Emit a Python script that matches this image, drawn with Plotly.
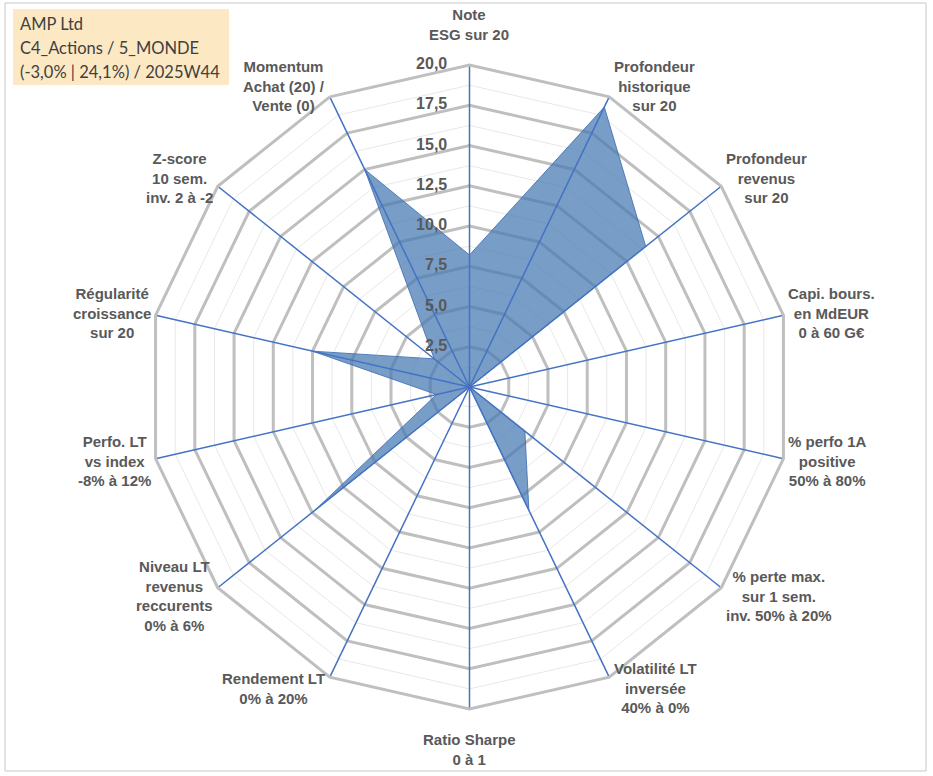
import numpy as np
import plotly.graph_objects as go

# axes of the radar, clockwise from the top
categories = ["ESG", "ProfHist", "ProfRev", "Capi", "Perfo1A", "PerteMax", "Volat",
              "Sharpe", "Rendement", "NiveauRev", "PerfoLT", "Regularite", "Zscore", "Momentum"]
axis_labels = [
    ["Note", "ESG sur 20"],
    ["Profondeur", "historique", "sur 20"],
    ["Profondeur", "revenus", "sur 20"],
    ["Capi. bours.", "en MdEUR", "0 à 60 G€"],
    ["% perfo 1A", "positive", "50% à 80%"],
    ["% perte max.", "sur 1 sem.", "inv. 50% à 20%"],
    ["Volatilité LT", "inversée", "40% à 0%"],
    ["Ratio Sharpe", "0 à 1"],
    ["Rendement LT", "0% à 20%"],
    ["Niveau LT", "revenus", "reccurents", "0% à 6%"],
    ["Perfo. LT", "vs index", "-8% à 12%"],
    ["Régularité", "croissance", "sur 20"],
    ["Z-score", "10 sem.", "inv. 2 à -2"],
    ["Momentum", "Achat (20) /", "Vente (0)"],
]
scores = [8.2, 19.3, 14.0, 0.0, 0.0, 4.4, 8.5, 0.0, 0.0, 12.3, 2.1, 10.0, 2.8, 15.0]

major_ticks = [0, 2.5, 5, 7.5, 10, 12.5, 15, 17.5, 20]
tick_text = ["0,0", "2,5", "5,0", "7,5", "10,0", "12,5", "15,0", "17,5", "20,0"]
minor_rings = [1.25, 3.75, 6.25, 8.75, 11.25, 13.75, 16.25, 18.75]

title_lines = ["AMP Ltd", "C4_Actions / 5_MONDE", "(-3,0% | 24,1%) / 2025W44"]

W, H = 933, 776
cx, cy, R = 469.5, 387, 322  # centre and radius of the polar area, px

fig = go.Figure()

# thin light rings between the main ones
ring_r, ring_t = [], []
for rr in minor_rings:
    ring_r += [rr] * (len(categories) + 1) + [None]
    ring_t += categories + [categories[0], None]
fig.add_trace(go.Scatterpolar(r=ring_r, theta=ring_t, mode="lines",
                              line=dict(color="#E8E8E8", width=1),
                              connectgaps=False, hoverinfo="skip", showlegend=False))

# the filled shape
fig.add_trace(go.Scatterpolar(
    r=scores + [scores[0]], theta=categories + [categories[0]],
    mode="lines", fill="toself",
    fillcolor="rgba(70,122,180,0.73)",
    line=dict(color="rgba(70,115,180,0.9)", width=1),
    showlegend=False, name="AMP Ltd"))

# blue spokes on top of the fill
sp_r, sp_t = [], []
for c in categories:
    sp_r += [0, 20, None]
    sp_t += [c, c, None]
fig.add_trace(go.Scatterpolar(r=sp_r, theta=sp_t, mode="lines",
                              line=dict(color="#4472C4", width=1.5),
                              connectgaps=False, hoverinfo="skip", showlegend=False))

# radial scale values along the top spoke (invisible markers push the text left)
fig.add_trace(go.Scatterpolar(
    r=major_ticks, theta=[categories[0]] * len(major_ticks),
    mode="markers+text", text=tick_text, textposition="middle left",
    marker=dict(size=34, color="rgba(0,0,0,0)"),
    textfont=dict(family="Liberation Sans", size=16, color="#595959", weight="bold"),
    hoverinfo="skip", showlegend=False))

fig.update_layout(
    width=W, height=H,
    margin=dict(l=0, r=0, t=0, b=0),
    paper_bgcolor="white",
    polar=dict(
        domain=dict(x=[(cx - R) / W, (cx + R) / W],
                    y=[(H - cy - R) / H, (H - cy + R) / H]),
        gridshape="linear",
        bgcolor="white",
        radialaxis=dict(
            range=[0, 20], tickvals=major_ticks,
            showticklabels=False, ticks="", showline=False,
            gridcolor="#BFBFBF", gridwidth=3,
        ),
        angularaxis=dict(
            categoryorder="array", categoryarray=categories,
            direction="clockwise", rotation=90,
            showgrid=False, showticklabels=False, ticks="",
            showline=True, linecolor="#BFBFBF", linewidth=3,
        ),
    ),
)

# category labels: beside each outer vertex, like Excel does it
n = len(categories)
for i, lines in enumerate(axis_labels):
    ang = np.deg2rad(i * 360 / n)
    s, c = np.sin(ang), np.cos(ang)
    vx = cx + R * s
    vy = cy - R * c
    if abs(s) < 0.01:
        lx, ly, anchor = vx, vy - 40.5 * np.sign(c), "center"
    else:
        lx = vx + 3 * np.sign(s)
        ly = vy - 12.5 * c
        anchor = "left" if s > 0 else "right"
    fig.add_annotation(x=lx / W, y=1 - ly / H, xref="paper", yref="paper",
                       text="<br>".join(lines), align="center",
                       showarrow=False, xanchor=anchor, yanchor="middle",
                       font=dict(family="Liberation Sans", size=15, color="#595959", weight="bold"))

# title box in the corner
fig.add_shape(type="rect", xref="paper", yref="paper",
              x0=13 / W, x1=229 / W, y0=1 - 85 / H, y1=1 - 9 / H,
              fillcolor="#FCE9C4", line=dict(width=0), layer="below")
for j, txt in enumerate(title_lines):
    fig.add_annotation(x=18 / W, y=1 - (24 + j * 24) / H, xref="paper", yref="paper",
                       text=txt, showarrow=False, xanchor="left", yanchor="middle",
                       font=dict(family="Lato", size=16.5, color="#404040"))

# chart border
fig.add_shape(type="rect", xref="paper", yref="paper",
              x0=5 / W, x1=926 / W, y0=1 - 771 / H, y1=1 - 3 / H,
              line=dict(color="#C8C8C8", width=1))

# drop the default 8px page margin so the figure fills the window
fig.write_html("out.html", config={"displayModeBar": False},
               post_script="document.body.style.margin='0';")
